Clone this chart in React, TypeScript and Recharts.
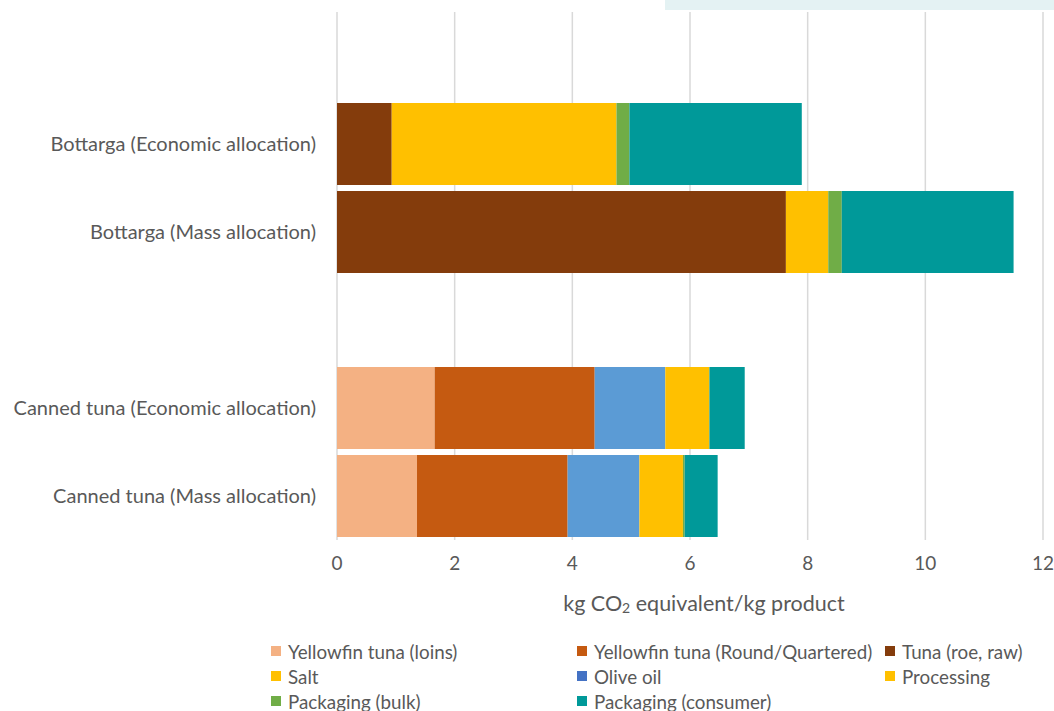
import { Bar, BarChart, CartesianGrid, Legend, XAxis, YAxis } from 'recharts';

const categories = [
  '',
  'Bottarga (Economic allocation)',
  'Bottarga (Mass allocation)',
  ' ',
  'Canned tuna (Economic allocation)',
  'Canned tuna (Mass allocation)'
];

const loins = [0, 0, 0, 0, 1.66, 1.36];
const round = [0, 0, 0, 0, 2.72, 2.56];
const roe = [0, 0.93, 7.63, 0, 0, 0];
const salt = [0, 0, 0, 0, 0, 0];
const oliveOil = [0, 0, 0, 0, 1.2, 1.22];
const processing = [0, 3.82, 0.72, 0, 0.75, 0.74];
const bulk = [0, 0.22, 0.23, 0, 0, 0.03];
const consumer = [0, 2.93, 2.92, 0, 0.6, 0.56];

const xTicks = [0, 2, 4, 6, 8, 10, 12];

const series = [
  { key: 'loins', name: 'Yellowfin tuna (loins)', values: loins, color: '#F4B183', swatch: '#F4B183' },
  { key: 'round', name: 'Yellowfin tuna (Round/Quartered)', values: round, color: '#C55A11', swatch: '#C55A11' },
  { key: 'roe', name: 'Tuna (roe, raw)', values: roe, color: '#843C0C', swatch: '#843C0C' },
  { key: 'salt', name: 'Salt', values: salt, color: '#FFC000', swatch: '#FFC000' },
  { key: 'oliveOil', name: 'Olive oil', values: oliveOil, color: '#5B9BD5', swatch: '#4472C4' },
  { key: 'processing', name: 'Processing', values: processing, color: '#FFC000', swatch: '#FFC000' },
  { key: 'bulk', name: 'Packaging (bulk)', values: bulk, color: '#70AD47', swatch: '#70AD47' },
  { key: 'consumer', name: 'Packaging (consumer)', values: consumer, color: '#009999', swatch: '#009999' }
];

const data = categories.map((name, i) => {
  const row: Record<string, string | number> = { name };
  series.forEach((s) => {
    row[s.key] = s.values[i];
  });
  return row;
});

const FONT = 'Lato, sans-serif';
const TEXT = '#595959';

const AxisTitle = ({ viewBox }: any) => {
  const cx = viewBox.x + viewBox.width / 2 + 14;
  return (
    <text x={cx} y={611} textAnchor="middle" fill={TEXT} fontSize={21.5} fontFamily={FONT}>
      kg CO<tspan fontSize={14} dy={2}>2</tspan>
      <tspan dy={-2}> equivalent/kg product</tspan>
    </text>
  );
};

const LegendBox = () => (
  <div
    style={{
      display: 'grid',
      gridTemplateColumns: '306px 308px 170px',
      paddingLeft: 271,
      paddingTop: 18.5,
      fontFamily: FONT,
      fontSize: 18.8,
      color: TEXT
    }}
  >
    {series.map((s) => (
      <div key={s.key} style={{ display: 'flex', alignItems: 'center', height: 25, whiteSpace: 'nowrap' }}>
        <span style={{ width: 10, height: 10, background: s.swatch, marginRight: 7, display: 'inline-block' }} />
        {s.name}
      </div>
    ))}
  </div>
);

export default function App() {
  return (
    <div style={{ position: 'absolute', left: 0, top: 0, width: 1054, height: 711, background: '#fff' }}>
      <div style={{ position: 'absolute', left: 665, top: 0, width: 389, height: 10, background: '#E4F2F3' }} />
      <BarChart
        width={1054}
        height={711}
        data={data}
        layout="vertical"
        barSize={82}
        margin={{ top: 12, right: 11, left: 0, bottom: 0 }}
      >
        <CartesianGrid horizontal={false} stroke="#D9D9D9" strokeWidth={1.5} />
        <XAxis
          type="number"
          domain={[0, 12]}
          ticks={xTicks}
          axisLine={false}
          tickLine={false}
          tickSize={0}
          tickMargin={17}
          height={80}
          tick={{ fill: TEXT, fontSize: 19, fontFamily: FONT }}
          label={<AxisTitle />}
        />
        <YAxis
          type="category"
          dataKey="name"
          width={337}
          axisLine={false}
          tickLine={false}
          tickSize={0}
          tickMargin={21}
          interval={0}
          tick={{ fill: TEXT, fontSize: 20, fontFamily: FONT }}
        />
        <Legend verticalAlign="bottom" height={91} content={<LegendBox />} />
        {series.map((s) => (
          <Bar
            key={s.key}
            dataKey={s.key}
            name={s.name}
            stackId="a"
            fill={s.color}
            isAnimationActive={false}
          />
        ))}
      </BarChart>
    </div>
  );
}
